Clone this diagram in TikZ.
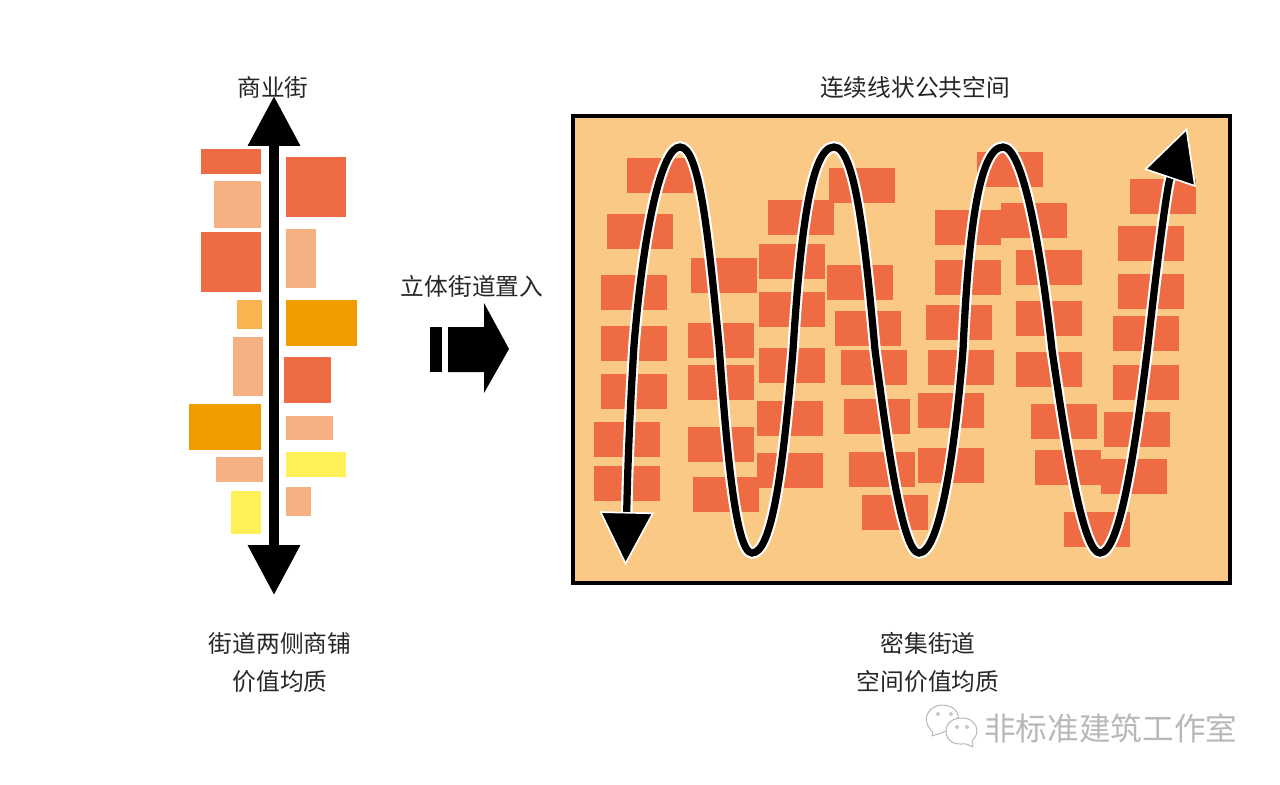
\documentclass[tikz,border=0pt]{standalone}
\usepackage{fontspec}
\setmainfont{Noto Sans CJK SC}
\usetikzlibrary{arrows.meta, positioning}
\definecolor{cdark}{HTML}{EE6B43}
\definecolor{clight}{HTML}{F6B183}
\definecolor{corange}{HTML}{F39C00}
\definecolor{camber}{HTML}{F9B350}
\definecolor{cyellow}{HTML}{FFF157}
\definecolor{csand}{HTML}{F9C985}
\definecolor{cmark}{HTML}{B8B8B8}
\tikzset{
  label/.style={font=\fontsize{13.5pt}{21.2pt}\selectfont, text=black!85, align=center, inner sep=0pt},
  mark text/.style={font=\fontsize{18pt}{21pt}\selectfont, text=cmark, inner sep=0pt},
  street/.style={{Triangle[length=1cm,width=1cm]}-{Triangle[length=1cm,width=1cm]}, line width=0.2cm, draw=black},
  snake/.style={line width=0.145cm, draw=black, preaction={draw=white, line width=0.23cm},
    {Triangle[length=1.06cm,width=1.08cm,color=white,fill=black,line width=0.03cm]}-{Triangle[length=1.06cm,width=1.08cm,color=white,fill=black,line width=0.03cm]}},
  bubble/.style={draw=cmark, fill=white, line width=0.02cm, line join=round},
}
\begin{document}
\begin{tikzpicture}[x=0.02cm, y=-0.02cm]
  \useasboundingbox (0,0) rectangle (1280,784);
  % shops along the street
  \foreach \xa/\ya/\xb/\yb/\col in {
    201/149/261/174/cdark, 214/181/261/228/clight, 201/232/261/292/cdark, 237/300/262/329/camber,
    233/337/263/396/clight, 189/404/261/450/corange, 216/457/263/482/clight, 231/491/261/534/cyellow,
    286/157/346/217/cdark, 286/229/316/288/clight, 286/300/357/346/corange, 284/357/331/403/cdark,
    286/416/333/440/clight, 286/452/346/477/cyellow, 286/487/311/516/clight}
    \fill[\col] (\xa,\ya) rectangle (\xb,\yb);
  \coordinate (streettop) at (274,96);
  \coordinate (streetbot) at (274,595);
  \draw[street] (streetbot) -- (streettop);
  \node[label] (shopst) at (273,87) {商业街};
  \node[label] (shopnote) at (280,662.5) {街道两侧商铺\\价值均质};
  % middle arrow
  \node[label] (insert) at (472,286) {立体街道置入};
  \fill (430,327) rectangle (442,372);
  \fill (448,327) -- (484,327) -- (484,303) -- (509,349) -- (484,393) -- (484,372) -- (448,372) -- cycle;
  % dense street
  \node[label] (linear) at (915,87) {连续线状公共空间};
  \draw[fill=csand, line width=0.08cm] (573,116) rectangle (1230,583);
  \foreach \x/\y in {
    627/158, 607/214, 601/275, 601/326, 601/374, 594/422, 594/466,
    691/258, 688/323, 688/365, 688/427, 693/477,
    768/200, 759/244, 759/292, 759/348, 757/401, 757/453,
    829/168, 827/265, 835/311, 841/350, 844/399, 849/452, 862/495,
    977/152, 935/210, 935/260, 926/305, 928/350, 918/393, 918/448,
    1001/203, 1016/250, 1016/301, 1016/352, 1031/404, 1035/450,
    1130/179, 1118/226, 1118/274, 1113/316, 1113/365, 1104/412, 1101/459, 1064/512}
    \fill[cdark] (\x,\y) rectangle +(66,35);
  \coordinate (snakein) at (625.5,565);
  \coordinate (snakeout) at (1187,128);
  \draw[snake] (snakein)
    .. controls (627,500) and (628,440) .. (634,345)
    .. controls (644,225) and (662,147) .. (680,147)
    .. controls (699,147) and (708,230) .. (719,345)
    .. controls (726,440) and (735,553) .. (752,553)
    .. controls (772,553) and (783,470) .. (793,350)
    .. controls (800,240) and (810,147) .. (834,147)
    .. controls (855,147) and (865,240) .. (875,350)
    .. controls (888,450) and (903,553) .. (919,553)
    .. controls (940,553) and (955,450) .. (963,350)
    .. controls (968,240) and (978,147) .. (1003,147)
    .. controls (1022,147) and (1040,240) .. (1052,350)
    .. controls (1068,460) and (1084,553) .. (1100,553)
    .. controls (1120,553) and (1135,450) .. (1148,345)
    .. controls (1154,290) and (1166,190) .. (snakeout);
  \node[label] (densenote) at (928,662.5) {密集街道\\空间价值均质};
  % watermark
  \draw[bubble] (932,736) .. controls (934,731) and (931,731) .. (930,729)
    .. controls (920,716) and (932,705) .. (942,705)
    .. controls (952,705) and (963,712) .. (956,724)
    .. controls (950,731) and (941,733) .. cycle;
  \draw[bubble] (973,747) .. controls (968,745) and (966,743) .. (962,744)
    .. controls (950,745) and (946,737) .. (946,731)
    .. controls (946,722) and (954,718) .. (962,718)
    .. controls (971,718) and (977,724) .. (977,731)
    .. controls (977,736) and (974,738) .. (972,741) -- cycle;
  \foreach \x/\y in {938/714, 951/714, 957/727, 967/727}
    \draw[cmark, line width=0.02cm] (\x,\y) circle (1.5);
  \node[mark text, anchor=west] (studio) at (984,728) {非标准建筑工作室};
\end{tikzpicture}
\end{document}
